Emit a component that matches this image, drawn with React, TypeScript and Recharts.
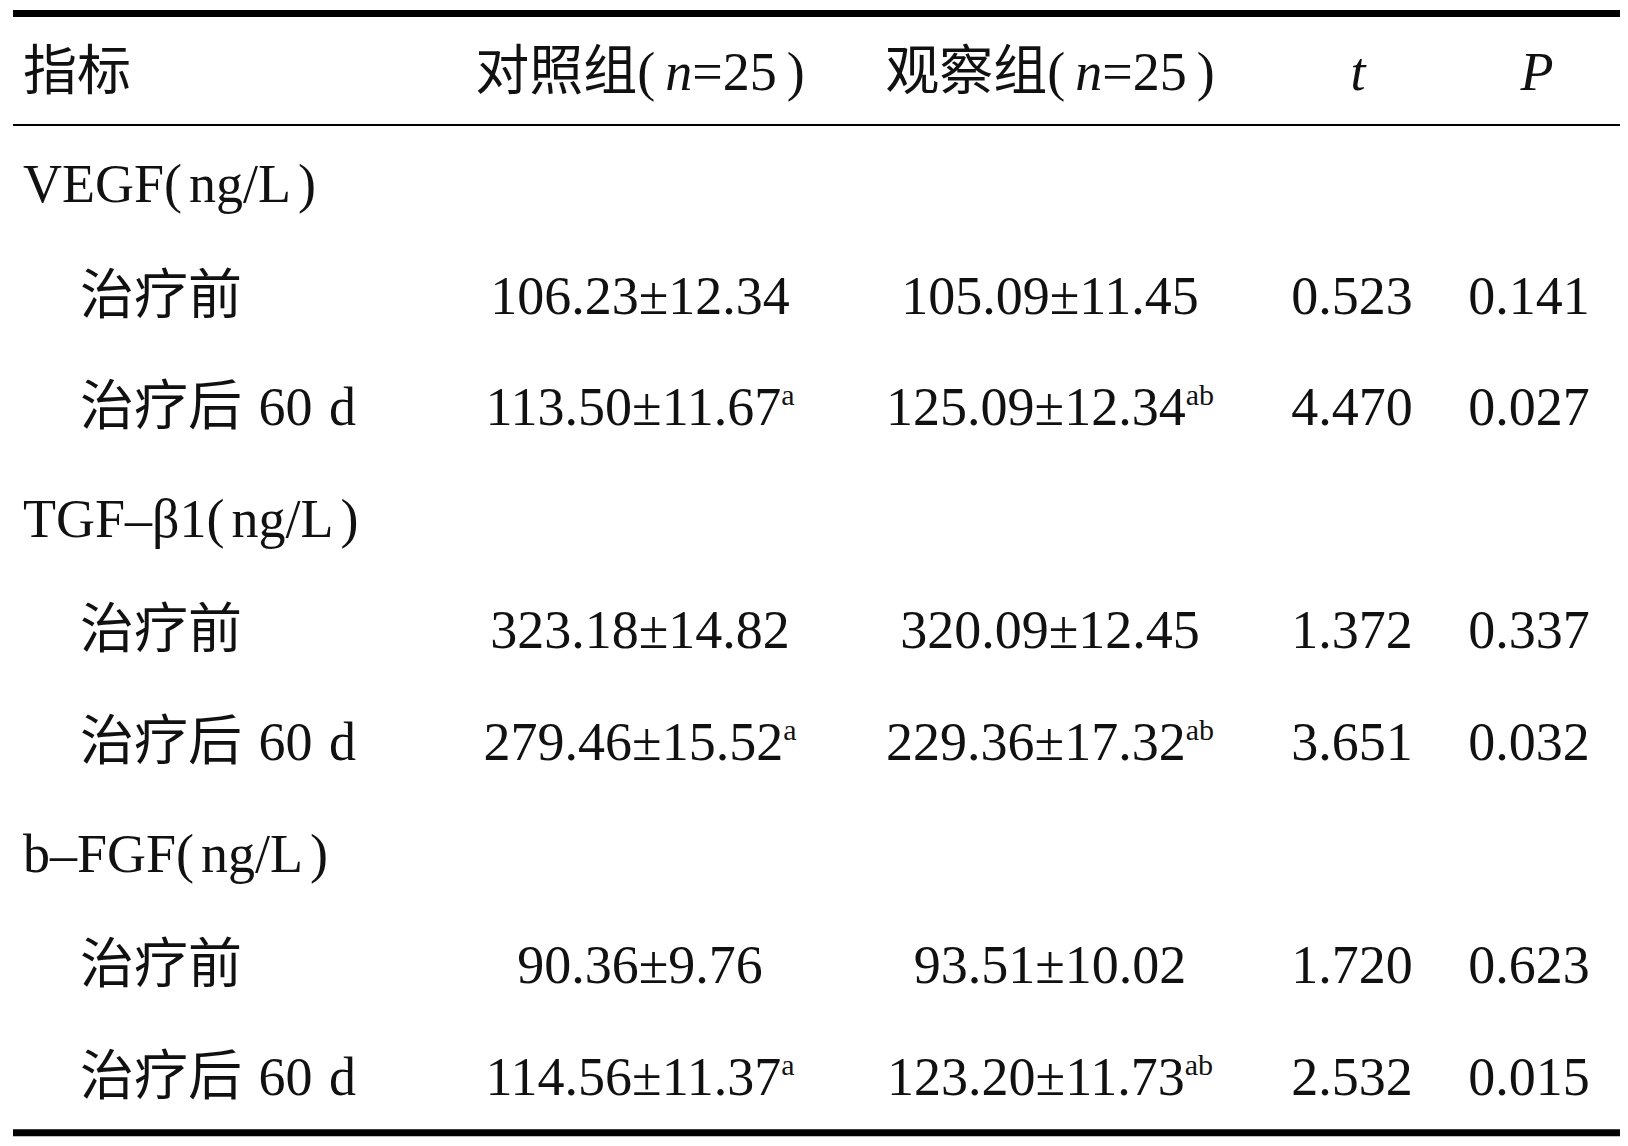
import React from 'react';
import { ScatterChart, Scatter, XAxis, YAxis, ReferenceLine } from 'recharts';

// table content
const groupN = 25;
const firstHeader = '指标';
const groupHeaders = ['对照组', '观察组'];
const statHeaders = ['t', 'P'];
const indicators = ['VEGF', 'TGF–β1', 'b–FGF'];
const unit = 'ng/L';
const phases = ['治疗前', '治疗后 60 d'];

const controlMean = [106.23, 113.5, 323.18, 279.46, 90.36, 114.56];
const controlSd = [12.34, 11.67, 14.82, 15.52, 9.76, 11.37];
const controlMark = ['', 'a', '', 'a', '', 'a'];
const observeMean = [105.09, 125.09, 320.09, 229.36, 93.51, 123.2];
const observeSd = [11.45, 12.34, 12.45, 17.32, 10.02, 11.73];
const observeMark = ['', 'ab', '', 'ab', '', 'ab'];
const tValues = [0.523, 4.47, 1.372, 3.651, 1.72, 2.532];
const pValues = [0.141, 0.027, 0.337, 0.032, 0.623, 0.015];

// layout
const W = 1628;
const H = 1146;
const ROW_STEP = 111.6;
const FIRST_BASELINE = 90.4;
const Y_MIN = -FIRST_BASELINE / ROW_STEP;
const Y_MAX = Y_MIN + H / ROW_STEP;
const LEFT_X = 23;
const INDENT_X = 80;
const GROUP_X = [640, 1050];
const STAT_X = [1352, 1529];
const STAT_HEAD_X = [1358, 1537];
const RULES = [
  { y: -0.69, w: 7 },
  { y: 0.31, w: 2 },
  { y: 9.34, w: 7 },
];
const FONT = "'Liberation Serif', 'Noto Sans CJK SC', serif";

type CellDatum = {
  x: number;
  y: number;
  text: string;
  kind: 'plain' | 'group' | 'italic' | 'section';
  anchor: 'start' | 'middle';
  mark?: string;
};

const fmt = (m: number, s: number) => `${m.toFixed(2)}±${s.toFixed(2)}`;

const labelCells: CellDatum[] = [{ x: LEFT_X, y: 0, text: firstHeader, kind: 'plain', anchor: 'start' }];
indicators.forEach((name, i) => {
  labelCells.push({ x: LEFT_X, y: 1 + 3 * i, text: name, kind: 'section', anchor: 'start' });
  phases.forEach((ph, j) => {
    labelCells.push({ x: INDENT_X, y: 2 + 3 * i + j, text: ph, kind: 'plain', anchor: 'start' });
  });
});

const rowOf = (d: number) => 2 + 3 * Math.floor(d / 2) + (d % 2);

const groupCells = (g: number, mean: number[], sd: number[], mark: string[]): CellDatum[] => [
  { x: GROUP_X[g], y: 0, text: groupHeaders[g], kind: 'group', anchor: 'middle' },
  ...mean.map((m, d) => ({
    x: GROUP_X[g],
    y: rowOf(d),
    text: fmt(m, sd[d]),
    mark: mark[d],
    kind: 'plain' as const,
    anchor: 'middle' as const,
  })),
];

const statCells = (k: number, vals: number[]): CellDatum[] => [
  { x: STAT_HEAD_X[k], y: 0, text: statHeaders[k], kind: 'italic', anchor: 'middle' },
  ...vals.map((v, d) => ({
    x: STAT_X[k],
    y: rowOf(d),
    text: v.toFixed(3),
    kind: 'plain' as const,
    anchor: 'middle' as const,
  })),
];

const columns: CellDatum[][] = [
  labelCells,
  groupCells(0, controlMean, controlSd, controlMark),
  groupCells(1, observeMean, observeSd, observeMark),
  statCells(0, tValues),
  statCells(1, pValues),
];

const renderCell = (props: any) => {
  const { cx, cy, payload } = props;
  const p = payload as CellDatum;
  const common = {
    x: cx,
    y: cy,
    fontFamily: FONT,
    fontSize: 54,
    fill: '#111',
    textAnchor: p.anchor,
  };
  if (p.kind === 'group') {
    return (
      <text {...common}>
        {p.text}(
        <tspan dx={10} fontStyle="italic">n</tspan>={groupN}
        <tspan dx={10}>)</tspan>
      </text>
    );
  }
  if (p.kind === 'section') {
    return (
      <text {...common}>
        {p.text}(
        <tspan dx={7}>{unit}</tspan>
        <tspan dx={7}>)</tspan>
      </text>
    );
  }
  if (p.kind === 'italic') {
    return <text {...common} fontStyle="italic">{p.text}</text>;
  }
  return (
    <text {...common} style={{ wordSpacing: 3 }}>
      {p.text}
      {p.mark ? (
        <tspan dy={-20} fontSize={30}>{p.mark}</tspan>
      ) : null}
    </text>
  );
};

export default function App() {
  return (
    <div style={{ position: 'absolute', left: 0, top: 0, width: W, height: H, background: '#fff' }}>
      <ScatterChart width={W} height={H} margin={{ top: 0, right: 0, bottom: 0, left: 0 }}>
        <XAxis type="number" dataKey="x" domain={[0, W]} hide allowDataOverflow />
        <YAxis type="number" dataKey="y" domain={[Y_MIN, Y_MAX]} reversed hide allowDataOverflow />
        {RULES.map((r, i) => (
          <ReferenceLine
            key={i}
            segment={[{ x: 13, y: r.y }, { x: 1620, y: r.y }]}
            stroke="#000"
            strokeWidth={r.w}
          />
        ))}
        {columns.map((col, i) => (
          <Scatter key={i} data={col} shape={renderCell} isAnimationActive={false} />
        ))}
      </ScatterChart>
    </div>
  );
}
